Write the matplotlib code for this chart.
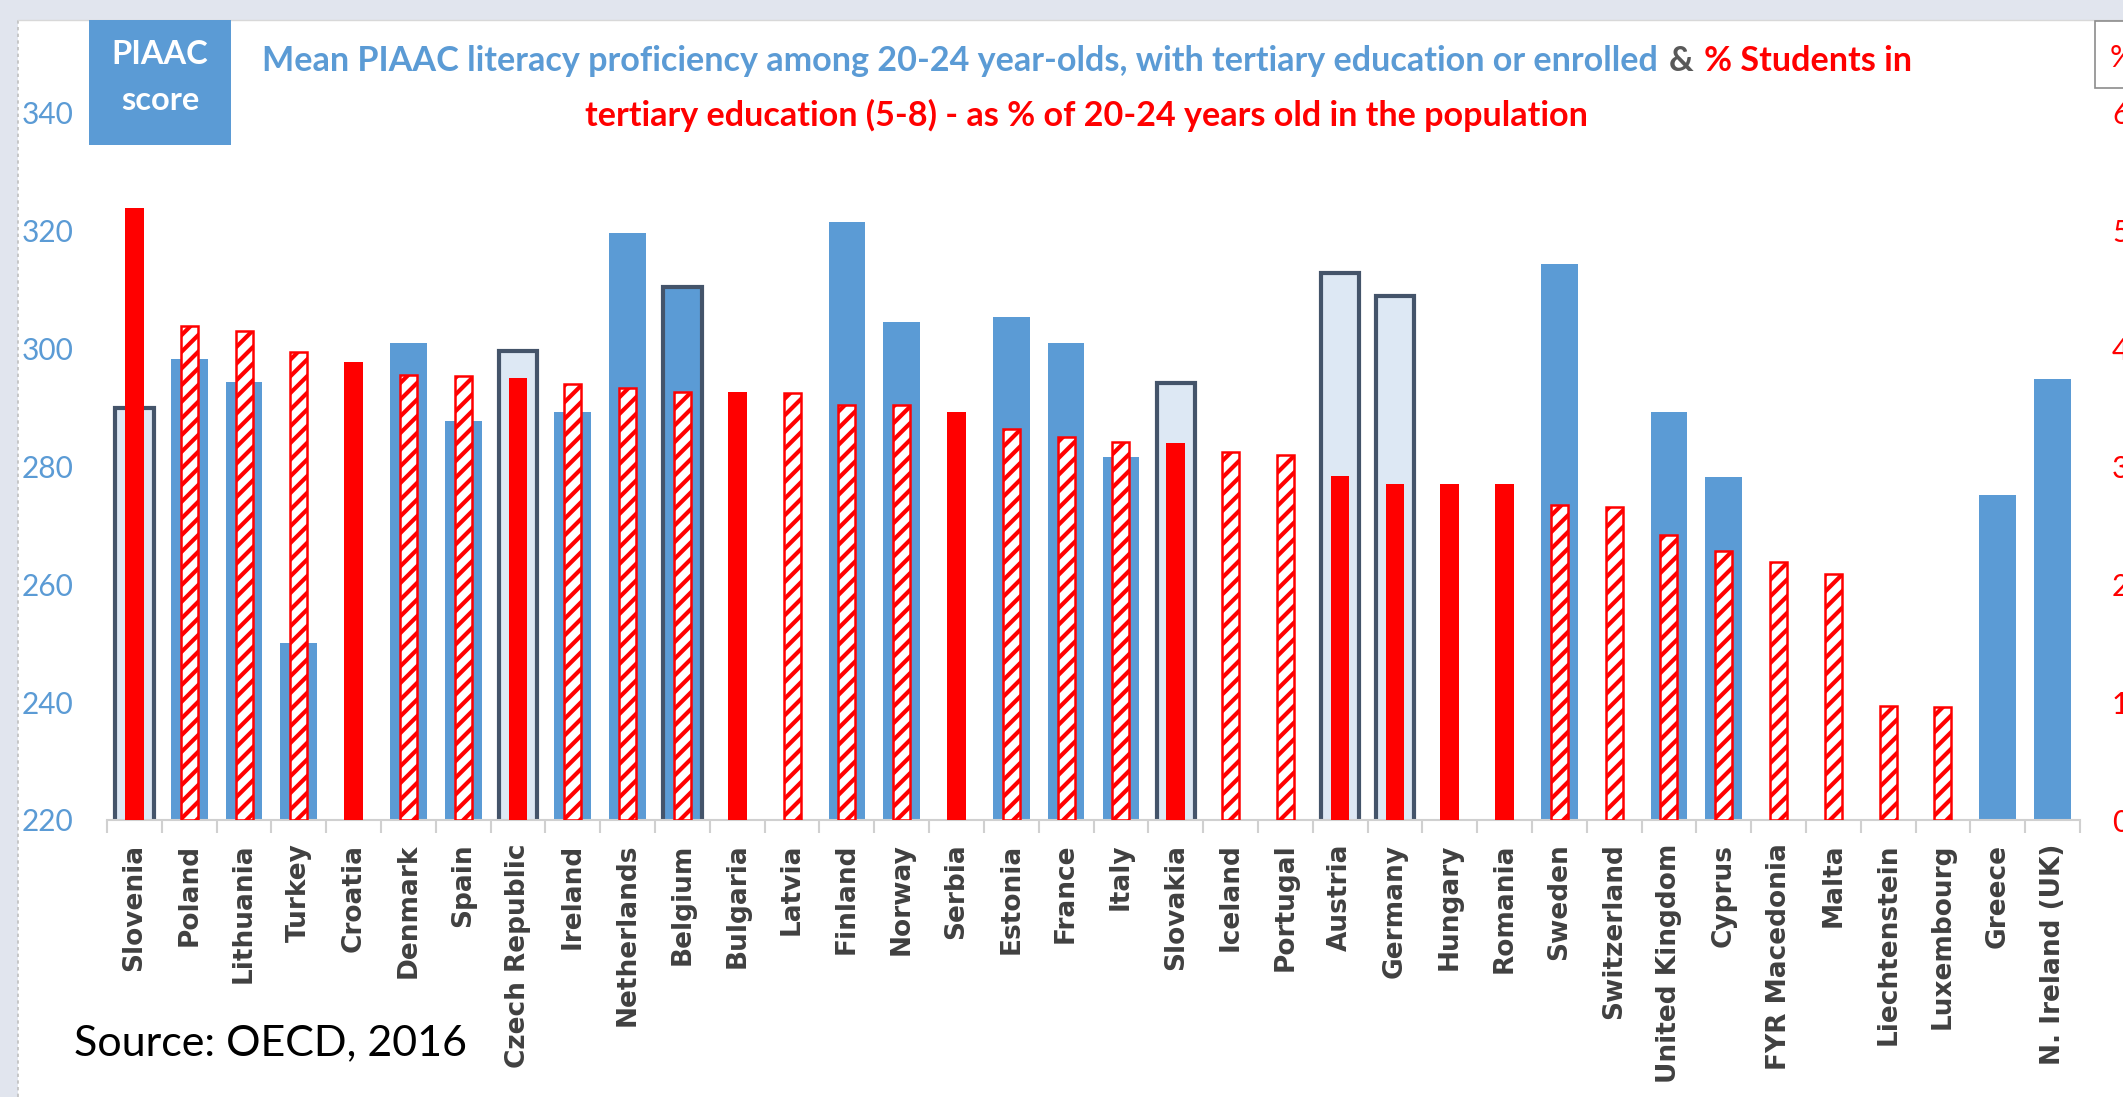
import numpy as np
import matplotlib
matplotlib.use("Agg")
import matplotlib.pyplot as plt
from matplotlib.patches import Rectangle
from matplotlib.lines import Line2D
from matplotlib.offsetbox import TextArea, HPacker, AnnotationBbox

nan = np.nan

countries = ["Slovenia", "Poland", "Lithuania", "Turkey", "Croatia", "Denmark", "Spain",
             "Czech Republic", "Ireland", "Netherlands", "Belgium", "Bulgaria", "Latvia",
             "Finland", "Norway", "Serbia", "Estonia", "France", "Italy", "Slovakia",
             "Iceland", "Portugal", "Austria", "Germany", "Hungary", "Romania", "Sweden",
             "Switzerland", "United Kingdom", "Cyprus", "FYR Macedonia", "Malta",
             "Liechtenstein", "Luxembourg", "Greece", "N. Ireland (UK)"]

# Mean PIAAC literacy score, 20-24 year-olds with tertiary education or enrolled
piaac_score = [289.9, 298.3, 294.4, 250.0, nan, 301.0, 287.7,
               299.6, 289.3, 319.6, 310.4, nan, nan,
               321.5, 304.6, nan, 305.4, 301.0, 281.6, 294.2,
               nan, nan, 312.9, 309.0, nan, nan, 314.4,
               nan, 289.3, 278.3, nan, nan,
               nan, nan, 275.1, 294.9]

# Students in tertiary education (ISCED 5-8), % of 20-24 year-olds
tertiary_pct = [51.9, 41.9, 41.5, 39.7, 38.9, 37.8, 37.7,
                37.5, 37.0, 36.7, 36.3, 36.3, 36.2,
                35.2, 35.2, 34.6, 33.2, 32.5, 32.1, 32.0,
                31.2, 31.0, 29.2, 28.5, 28.5, 28.5, 26.7,
                26.6, 24.2, 22.8, 21.9, 20.9,
                9.7, 9.6, nan, nan]

score_ticks = [220, 240, 260, 280, 300, 320, 340]
pct_ticks = [0, 10, 20, 30, 40, 50, 60]

# country groups drawn with a different bar style
score_light_outlined = {"Slovenia", "Czech Republic", "Slovakia", "Austria", "Germany"}
score_blue_outlined = {"Belgium"}
pct_solid = {"Slovenia", "Croatia", "Czech Republic", "Bulgaria", "Serbia", "Slovakia",
             "Austria", "Germany", "Hungary", "Romania"}

BLUE = "#5b9bd5"
LIGHT = "#dde8f4"
SLATE = "#44546a"
RED = "#ff0000"
GREY_TXT = "#404040"
BG = "#e1e5ee"

plt.rcParams["hatch.linewidth"] = 3.0

W, H = 2123, 1097
fig = plt.figure(figsize=(W / 100, H / 100), dpi=100)
fig.patch.set_facecolor(BG)


def fx(px):
    return px / W


def fy(py):
    return 1 - py / H


# white chart panel, behind everything else
fig.patches.append(Rectangle((fx(18), 0), 1, fy(20), transform=fig.transFigure,
                             facecolor="white", edgecolor="none", zorder=-10))
fig.lines.append(Line2D([fx(18), fx(18)], [0, fy(20)], transform=fig.transFigure,
                        color="#c0c0c0", lw=1.2, ls=(0, (2, 2)), zorder=-9))
fig.lines.append(Line2D([fx(18), 1], [fy(20), fy(20)], transform=fig.transFigure,
                        color="#d8d8d8", lw=1.0, zorder=-9))

left, right, top, bottom = 107, 2080, 113, 820
ax = fig.add_axes([fx(left), fy(bottom), fx(right) - fx(left), fy(top) - fy(bottom)])
ax.set_facecolor("none")
ax2 = ax.twinx()

x = np.arange(len(countries))

# PIAAC score bars (left axis)
for i, (c, v) in enumerate(zip(countries, piaac_score)):
    if np.isnan(v):
        continue
    if c in score_light_outlined:
        ax.bar(x[i], v, width=0.70, color=LIGHT, edgecolor=SLATE, linewidth=3.0, zorder=2)
    elif c in score_blue_outlined:
        ax.bar(x[i], v, width=0.70, color=BLUE, edgecolor=SLATE, linewidth=3.0, zorder=2)
    else:
        ax.bar(x[i], v, width=0.67, color=BLUE, edgecolor="none", zorder=2)

# tertiary enrolment bars (right axis)
for i, (c, v) in enumerate(zip(countries, tertiary_pct)):
    if np.isnan(v):
        continue
    if c in pct_solid:
        ax2.bar(x[i], v, width=0.34, color=RED, edgecolor="none", zorder=3)
    else:
        ax2.bar(x[i], v, width=0.31, facecolor="white", edgecolor=RED, linewidth=1.8,
                hatch="//", zorder=3)

ax.set_xlim(-0.5, len(countries) - 0.5)
ax.set_ylim(220, 340)
ax2.set_ylim(0, 60)

for a in (ax, ax2):
    for s in a.spines.values():
        s.set_visible(False)
ax.spines["bottom"].set_visible(True)
ax.spines["bottom"].set_color("#d0d0d0")
ax.spines["bottom"].set_linewidth(1.5)

ax.set_yticks(score_ticks)
ax.set_yticklabels([str(t) for t in score_ticks])
ax.tick_params(axis="y", length=0, pad=24, labelsize=21.5, labelcolor=BLUE)
for lab in ax.get_yticklabels():
    lab.set_fontfamily("Lato")

ax2.set_yticks(pct_ticks)
ax2.set_yticklabels([str(t) for t in pct_ticks])
ax2.tick_params(axis="y", length=0, pad=23, labelsize=21.5, labelcolor=RED)
for lab in ax2.get_yticklabels():
    lab.set_fontfamily("Lato")

ax.set_xticks(x)
ax.set_xticklabels(countries, rotation=90, fontsize=19, fontweight="bold",
                   color=GREY_TXT, family="DejaVu Sans")
ax.set_xticks(np.arange(len(countries) + 1) - 0.5, minor=True)
ax.tick_params(axis="x", which="major", length=0, pad=17)
ax.tick_params(axis="x", which="minor", length=9, width=1.5, color="#d0d0d0")

# title, two lines, coloured by series
tprops = dict(fontsize=24.6, fontweight="bold", family="Lato")
line1 = HPacker(children=[
    TextArea("Mean PIAAC literacy proficiency among 20-24 year-olds, with tertiary education or enrolled",
             textprops=dict(color=BLUE, **tprops)),
    TextArea("&", textprops=dict(color="#595959", **tprops)),
    TextArea("% Students in", textprops=dict(color=RED, **tprops)),
], sep=8, pad=0, align="baseline")
fig.add_artist(AnnotationBbox(line1, (fx(1087), fy(61)), xycoords="figure fraction",
                              box_alignment=(0.5, 0.5), frameon=False))
fig.text(fx(1086), fy(115), "tertiary education (5-8) - as % of 20-24 years old in the population",
         color=RED, ha="center", va="center", **tprops)

# axis caption boxes
fig.patches.append(Rectangle((fx(89), fy(145)), fx(231) - fx(89), fy(20) - fy(145),
                             transform=fig.transFigure, facecolor=BLUE, edgecolor="none", zorder=2))
fig.text(fx(160), fy(54), "PIAAC", color="white", ha="center", va="center",
         fontsize=23.5, fontweight="bold", family="Lato", zorder=3)
fig.text(fx(160), fy(101), "score", color="white", ha="center", va="center",
         fontsize=23.5, fontweight="bold", family="Lato", zorder=3)

fig.patches.append(Rectangle((fx(2095), fy(88)), fx(60), fy(21) - fy(88),
                             transform=fig.transFigure, facecolor="white", edgecolor="#8c8c8c",
                             linewidth=1.2, zorder=2))
fig.text(fx(2110), fy(58), "%", color=RED, ha="left", va="center",
         fontsize=21.5, family="Lato", zorder=3)

fig.text(fx(74), fy(1043), "Source: OECD, 2016", color="black", ha="left", va="center",
         fontsize=31, family="Lato")

fig.savefig("out.png", dpi=100, facecolor=fig.get_facecolor())
